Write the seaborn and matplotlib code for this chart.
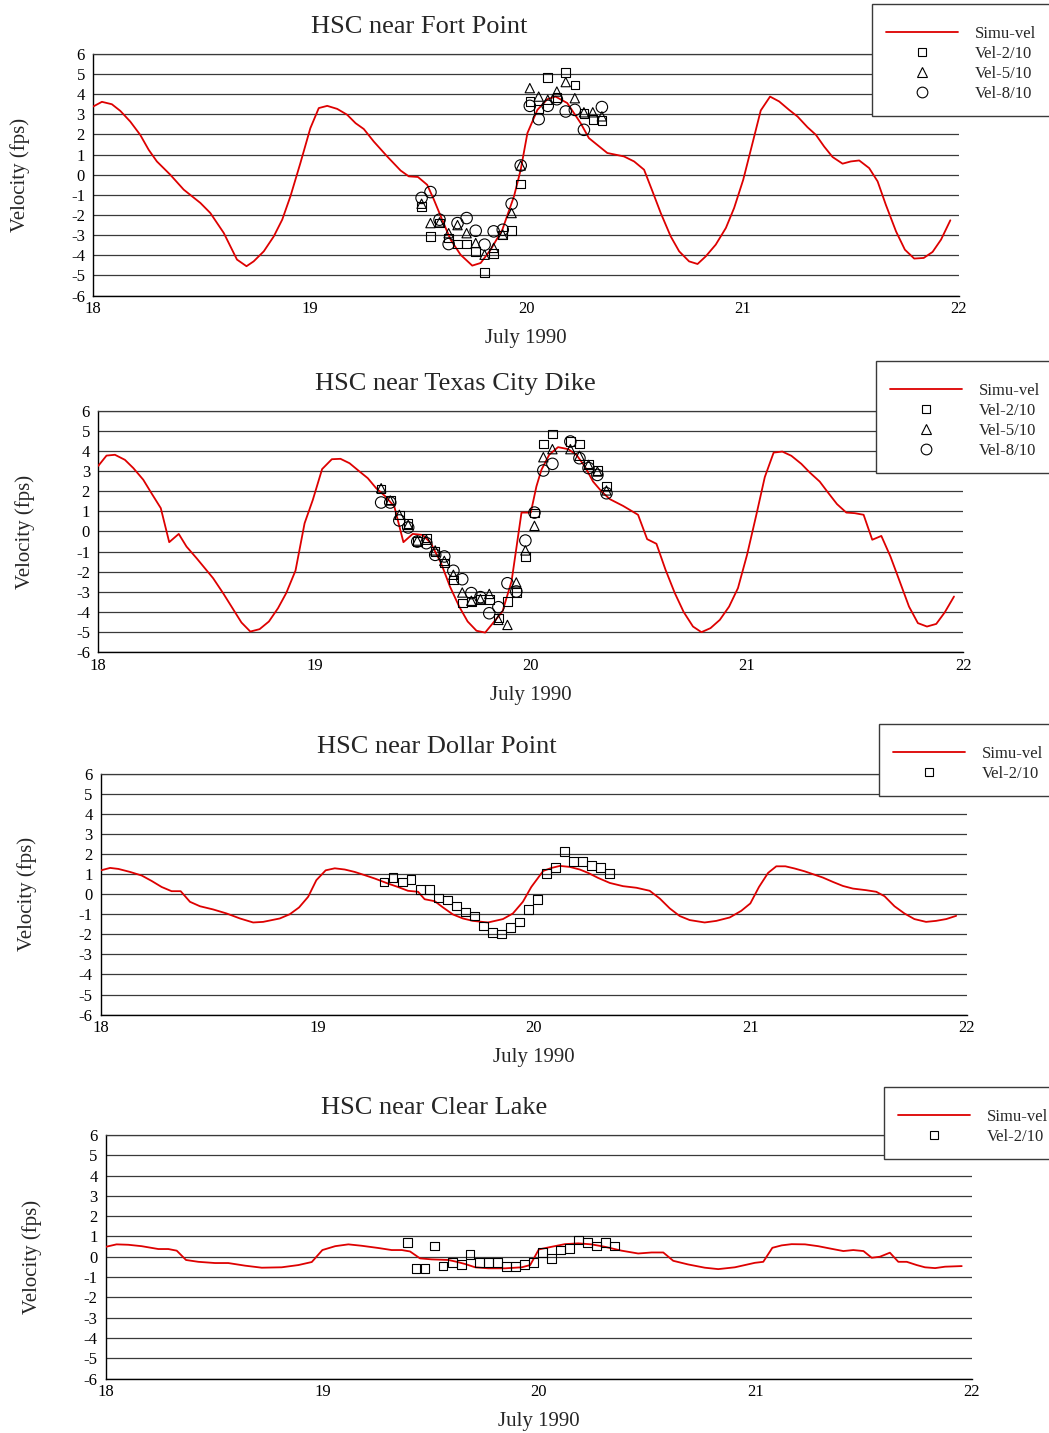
import pandas as pd
import matplotlib
matplotlib.use('Agg')
import matplotlib.pyplot as plt
from matplotlib.lines import Line2D
import seaborn as sns

sns.set_style('white')
plt.rcParams['font.family'] = ['Liberation Serif', 'DejaVu Serif']
plt.rcParams['axes.unicode_minus'] = False

rojo = '#dd0000'
gris = '#3a3a3a'

# Horas de medicion (cada hora, comunes a las cuatro estaciones)
horas_obs = [19.308, 19.350, 19.392, 19.433, 19.475, 19.517, 19.558, 19.600,
             19.642, 19.683, 19.725, 19.767, 19.808, 19.850, 19.892, 19.933,
             19.975, 20.017, 20.058, 20.100, 20.142, 20.183, 20.225, 20.267,
             20.308, 20.350]

# ---- HSC near Fort Point ----
fp_t = [18.0, 18.04, 18.086, 18.125, 18.171, 18.217, 18.256, 18.294, 18.356, 18.418,
        18.495, 18.541, 18.603, 18.664, 18.708, 18.741, 18.788, 18.834, 18.873, 18.911,
        18.957, 19.003, 19.042, 19.081, 19.127, 19.173, 19.212, 19.25, 19.296, 19.358,
        19.42, 19.458, 19.5, 19.543, 19.574, 19.612, 19.651, 19.697, 19.751, 19.79,
        19.836, 19.89, 19.944, 19.975, 20.006, 20.052, 20.098, 20.136, 20.19, 20.252,
        20.29, 20.375, 20.452, 20.499, 20.545, 20.584, 20.622, 20.668, 20.707, 20.753,
        20.792, 20.83, 20.876, 20.923, 20.961, 21.003, 21.046, 21.084, 21.127, 21.169,
        21.215, 21.254, 21.3, 21.339, 21.377, 21.416, 21.462, 21.5, 21.539, 21.585,
        21.624, 21.662, 21.709, 21.75, 21.793, 21.837, 21.878, 21.917, 21.96]
fp_v = [3.39, 3.62, 3.5, 3.17, 2.64, 1.98, 1.24, 0.66, 0.0, -0.74,
        -1.4, -1.9, -2.89, -4.21, -4.54, -4.3, -3.8, -3.06, -2.23, -1.07,
        0.58, 2.31, 3.31, 3.42, 3.27, 2.98, 2.56, 2.27, 1.65, 0.91,
        0.21, -0.08, -0.11, -0.5, -1.24, -2.23, -3.22, -3.97, -4.51, -4.38,
        -3.72, -2.73, -1.07, 0.25, 2.07, 3.22, 3.75, 3.88, 3.56, 2.56,
        1.82, 1.08, 0.91, 0.66, 0.25, -0.83, -1.9, -3.06, -3.8, -4.3,
        -4.43, -4.05, -3.47, -2.64, -1.65, -0.25, 1.57, 3.19, 3.88, 3.64,
        3.22, 2.89, 2.36, 1.98, 1.4, 0.88, 0.55, 0.66, 0.71, 0.33,
        -0.33, -1.49, -2.81, -3.72, -4.16, -4.13, -3.83, -3.22, -2.26]
fp_vel2 = [-1.57, -3.06, -2.4, -3.14, -3.44, -3.44, -3.8, -4.84, -3.92, -3.0, -2.78,
           -0.46, 3.64, 3.26, 4.84, 3.83, 5.07, 4.46, 3.03, 2.73, 2.68]
fp_vel5 = [-1.44, -2.4, -2.36, -2.9, -2.5, -2.9, -3.39, -3.97, -3.63, -2.97, -1.9,
           0.46, 4.3, 3.88, 3.72, 4.13, 4.6, 3.8, 3.1, 3.1, 2.9]
fp_vel8 = [-1.15, -0.86, -2.23, -3.44, -2.4, -2.15, -2.78, -3.47, -2.81, -2.73, -1.44,
           0.46, 3.42, 2.76, 3.42, 3.75, 3.14, 3.22, 2.23, None, 3.36]

# ---- HSC near Texas City Dike ----
tc_t = [18.0, 18.038, 18.077, 18.123, 18.162, 18.208, 18.246, 18.289, 18.328, 18.372,
        18.408, 18.454, 18.531, 18.577, 18.662, 18.703, 18.746, 18.789, 18.831, 18.869,
        18.912, 18.954, 18.992, 19.035, 19.08, 19.12, 19.162, 19.208, 19.246, 19.285,
        19.328, 19.369, 19.411, 19.454, 19.5, 19.538, 19.585, 19.626, 19.669, 19.708,
        19.749, 19.789, 19.831, 19.869, 19.911, 19.957, 20.0, 20.026, 20.049, 20.085,
        20.126, 20.173, 20.211, 20.25, 20.288, 20.327, 20.365, 20.427, 20.496, 20.538,
        20.581, 20.623, 20.666, 20.707, 20.75, 20.789, 20.831, 20.874, 20.917, 20.958,
        21.0, 21.043, 21.082, 21.123, 21.163, 21.205, 21.251, 21.29, 21.336, 21.374,
        21.416, 21.459, 21.498, 21.539, 21.579, 21.621, 21.663, 21.706, 21.749, 21.79,
        21.832, 21.875, 21.914, 21.957]
tc_v = [3.26, 3.77, 3.81, 3.56, 3.15, 2.57, 1.9, 1.16, -0.53, -0.12,
        -0.75, -1.32, -2.32, -3.06, -4.52, -4.97, -4.85, -4.47, -3.81, -3.06,
        -1.94, 0.41, 1.57, 3.1, 3.59, 3.61, 3.39, 2.98, 2.65, 2.15,
        1.74, 1.24, -0.53, -0.12, -0.17, -0.58, -1.57, -2.73, -3.73, -4.47,
        -4.93, -5.02, -4.47, -3.97, -2.48, 0.94, 0.94, 2.24, 3.06, 3.81,
        4.19, 4.09, 3.81, 3.23, 2.48, 1.99, 1.61, 1.27, 0.83, -0.38,
        -0.61, -1.9, -3.06, -4.0, -4.72, -5.0, -4.8, -4.39, -3.73, -2.81,
        -1.16, 0.83, 2.7, 3.92, 3.97, 3.76, 3.36, 2.93, 2.48, 1.94,
        1.36, 0.94, 0.91, 0.83, -0.41, -0.22, -1.24, -2.48, -3.73, -4.55,
        -4.72, -4.59, -4.02, -3.23]
tc_vel2 = [2.10, 1.57, 0.83, 0.41, -0.5, -0.33, -0.99, -1.57, -2.4, -3.56, -3.48, -3.39, -3.39,
           -4.3, -3.48, -3.03, -1.24, 0.91, 4.35, 4.85, None, 4.47, 4.35, 3.36, 3.03, 2.27]
tc_vel5 = [2.15, 1.54, 0.83, 0.33, -0.45, -0.41, -0.94, -1.46, -2.15, -3.03, -3.44, -3.36, -3.1,
           -4.39, -4.64, -2.53, -0.94, 0.28, 3.69, 4.09, None, 4.09, 3.76, 3.31, 2.98, 2.04]
tc_vel8 = [1.44, 1.44, 0.55, 0.2, -0.5, -0.58, -1.16, -1.24, -1.95, -2.37, -3.06, -3.26, -4.06,
           -3.76, -2.57, -2.98, -0.45, 0.94, 3.03, 3.36, None, 4.47, 3.64, 3.15, 2.81, 1.9]

# ---- HSC near Dollar Point ----
dp_t = [18.0, 18.042, 18.08, 18.134, 18.188, 18.234, 18.28, 18.326, 18.368, 18.411,
        18.457, 18.518, 18.58, 18.642, 18.703, 18.749, 18.826, 18.872, 18.915, 18.957,
        18.995, 19.038, 19.08, 19.126, 19.172, 19.218, 19.265, 19.326, 19.372, 19.418,
        19.465, 19.495, 19.542, 19.58, 19.626, 19.672, 19.718, 19.788, 19.857, 19.903,
        19.949, 19.988, 20.043, 20.082, 20.12, 20.166, 20.212, 20.251, 20.297, 20.351,
        20.412, 20.474, 20.535, 20.582, 20.628, 20.674, 20.72, 20.789, 20.843, 20.905,
        20.958, 21.0, 21.04, 21.082, 21.12, 21.162, 21.205, 21.251, 21.289, 21.335,
        21.382, 21.428, 21.474, 21.535, 21.582, 21.62, 21.666, 21.712, 21.758, 21.812,
        21.858, 21.905, 21.951]
dp_v = [1.19, 1.31, 1.26, 1.11, 0.93, 0.66, 0.36, 0.15, 0.15, -0.38,
        -0.6, -0.76, -0.96, -1.21, -1.41, -1.38, -1.21, -1.0, -0.66, -0.13,
        0.7, 1.19, 1.29, 1.23, 1.11, 0.95, 0.78, 0.53, 0.36, 0.17,
        0.12, -0.25, -0.35, -0.66, -1.01, -1.21, -1.33, -1.41, -1.24, -0.96,
        -0.38, 0.36, 1.16, 1.31, 1.41, 1.36, 1.23, 1.06, 0.81, 0.56,
        0.4, 0.32, 0.17, -0.22, -0.71, -1.09, -1.29, -1.41, -1.33, -1.16,
        -0.83, -0.46, 0.36, 1.06, 1.39, 1.39, 1.28, 1.14, 1.0, 0.83,
        0.61, 0.41, 0.28, 0.2, 0.12, -0.1, -0.6, -0.96, -1.24, -1.38,
        -1.33, -1.24, -1.08]
dp_vel2 = [0.61, 0.83, 0.61, 0.73, 0.23, 0.23, -0.18, -0.3, -0.58, -0.88, -1.09, -1.59, -1.91,
           -1.99, -1.67, -1.38, -0.76, -0.27, 1.03, 1.33, 2.14, 1.64, 1.64, 1.44, 1.33, 1.03]

# ---- HSC near Clear Lake ----
cl_t = [18.0, 18.049, 18.103, 18.165, 18.242, 18.288, 18.327, 18.37, 18.427, 18.504,
        18.565, 18.643, 18.72, 18.812, 18.889, 18.951, 19.0, 19.059, 19.12, 19.182,
        19.259, 19.32, 19.367, 19.405, 19.451, 19.505, 19.582, 19.621, 19.66, 19.706,
        19.767, 19.844, 19.921, 19.96, 20.0, 20.059, 20.12, 20.182, 20.243, 20.305,
        20.382, 20.459, 20.521, 20.575, 20.621, 20.69, 20.767, 20.829, 20.906, 20.998,
        21.037, 21.079, 21.122, 21.168, 21.23, 21.291, 21.353, 21.407, 21.453, 21.5,
        21.538, 21.576, 21.622, 21.661, 21.7, 21.746, 21.784, 21.831, 21.877, 21.954]
cl_v = [0.49, 0.61, 0.59, 0.52, 0.38, 0.38, 0.3, -0.16, -0.25, -0.31,
        -0.31, -0.44, -0.54, -0.52, -0.41, -0.26, 0.33, 0.52, 0.61, 0.54,
        0.43, 0.33, 0.33, 0.26, -0.08, -0.13, -0.16, -0.25, -0.36, -0.52,
        -0.57, -0.57, -0.52, -0.41, 0.36, 0.49, 0.62, 0.66, 0.61, 0.49,
        0.3, 0.16, 0.21, 0.21, -0.2, -0.38, -0.54, -0.61, -0.52, -0.3,
        -0.25, 0.44, 0.56, 0.62, 0.61, 0.52, 0.39, 0.28, 0.33, 0.28,
        -0.05, 0.0, 0.2, -0.25, -0.25, -0.41, -0.52, -0.56, -0.49, -0.46]
cl_vel2 = [0.7, -0.57, -0.57, 0.52, -0.46, -0.28, -0.38, 0.11, -0.28, -0.28, -0.28, -0.49,
           -0.49, -0.38, -0.28, 0.21, -0.08, 0.33, 0.41, 0.82, 0.7, 0.52, 0.7, 0.52]

# estilo de cada serie medida: marcador, tamano en grafica, tamano en leyenda
estilos = {
    'Vel-2/10': ('s', 38, 5.5),
    'Vel-5/10': ('^', 45, 7),
    'Vel-8/10': ('o', 68, 7.7),
}

fig = plt.figure(figsize=(10.49, 14.33), dpi=100)


def dibujar_panel(pos, titulo, x_titulo, t_sim, v_sim, medidas, esquina_leyenda):
    ax = fig.add_axes(pos)

    df_sim = pd.DataFrame({'t': t_sim, 'v': v_sim})
    sns.lineplot(data=df_sim, x='t', y='v', ax=ax, color=rojo, linewidth=1.3,
                 sort=False, estimator=None, zorder=4)

    manijas = [Line2D([], [], color=rojo, lw=1.3)]
    etiquetas = ['Simu-vel']
    for etiqueta, horas, valores in medidas:
        marcador, tam, tam_ley = estilos[etiqueta]
        df_obs = pd.DataFrame({'t': horas, 'v': valores}).dropna()
        sns.scatterplot(data=df_obs, x='t', y='v', ax=ax, marker=marcador, s=tam,
                        facecolor='none', edgecolor='black', linewidth=0.8, zorder=5)
        manijas.append(Line2D([], [], ls='none', marker=marcador, ms=tam_ley,
                              mfc='none', mec='black', mew=0.8))
        etiquetas.append(etiqueta)

    ax.set_xlim(18, 22)
    ax.set_ylim(-6, 6)
    ax.set_xticks([18, 19, 20, 21, 22])
    ax.set_yticks(range(-6, 7))
    ax.set_xticks([19, 20, 21], minor=True)
    ax.tick_params(which='major', direction='in', width=0.8, colors='black', labelsize=12)
    ax.tick_params(axis='x', which='major', length=6, pad=4)
    ax.tick_params(axis='y', which='major', length=5, pad=6)
    ax.tick_params(axis='x', which='minor', length=0)

    # rejilla: horizontales en cada entero, verticales solo en 19, 20, 21
    ax.grid(axis='y', which='major', color=gris, linewidth=0.9)
    ax.grid(axis='x', which='minor', color='black', linewidth=0.8)
    ax.grid(axis='x', which='major', visible=False)

    ax.spines['right'].set_visible(False)
    ax.spines['top'].set_color(gris)
    ax.spines['top'].set_linewidth(0.9)
    for lado in ['left', 'bottom']:
        ax.spines[lado].set_color('black')
        ax.spines[lado].set_linewidth(1.0)

    ax.text(x_titulo, 1.11, titulo, transform=ax.transAxes, ha='center', va='center', fontsize=19)
    ax.set_xlabel('July 1990', fontsize=15)
    ax.xaxis.set_label_coords(0.5, -0.178)
    ax.xaxis.label.set_verticalalignment('center')
    ax.set_ylabel('Velocity (fps)', fontsize=15)
    ax.yaxis.set_label_coords(-0.085, 0.5)
    ax.yaxis.label.set_verticalalignment('center')

    # titulo vacio y diminuto: deja mas aire arriba que abajo, como el original
    ley = ax.legend(manijas, etiquetas, loc='upper left', bbox_to_anchor=esquina_leyenda,
                    bbox_transform=fig.transFigure, borderaxespad=0, fontsize=12,
                    title=' ', title_fontsize=3,
                    frameon=True, fancybox=False, framealpha=1, edgecolor=gris,
                    borderpad=0.85, labelspacing=0.24, handlelength=4.3, handletextpad=1.0)
    ley.get_frame().set_linewidth(1.0)
    ley.set_zorder(10)
    return ax


dibujar_panel([0.0889, 0.7937, 0.8253, 0.1687], 'HSC near Fort Point', 0.376, fp_t, fp_v,
              [('Vel-2/10', horas_obs[5:], fp_vel2),
               ('Vel-5/10', horas_obs[5:], fp_vel5),
               ('Vel-8/10', horas_obs[5:], fp_vel8)],
              (0.8313, 0.9972))

dibujar_panel([0.0937, 0.5448, 0.8246, 0.1686], 'HSC near Texas City Dike', 0.413, tc_t, tc_v,
              [('Vel-2/10', horas_obs, tc_vel2),
               ('Vel-5/10', horas_obs, tc_vel5),
               ('Vel-8/10', horas_obs, tc_vel8)],
              (0.8351, 0.7481))

dibujar_panel([0.0963, 0.2920, 0.8253, 0.1680], 'HSC near Dollar Point', 0.388, dp_t, dp_v,
              [('Vel-2/10', horas_obs, dp_vel2)],
              (0.8379, 0.4948))

dibujar_panel([0.1010, 0.0380, 0.8253, 0.1700], 'HSC near Clear Lake', 0.379, cl_t, cl_v,
              [('Vel-2/10', horas_obs[2:], cl_vel2)],
              (0.8427, 0.2415))

fig.savefig('out.png', dpi=100)
